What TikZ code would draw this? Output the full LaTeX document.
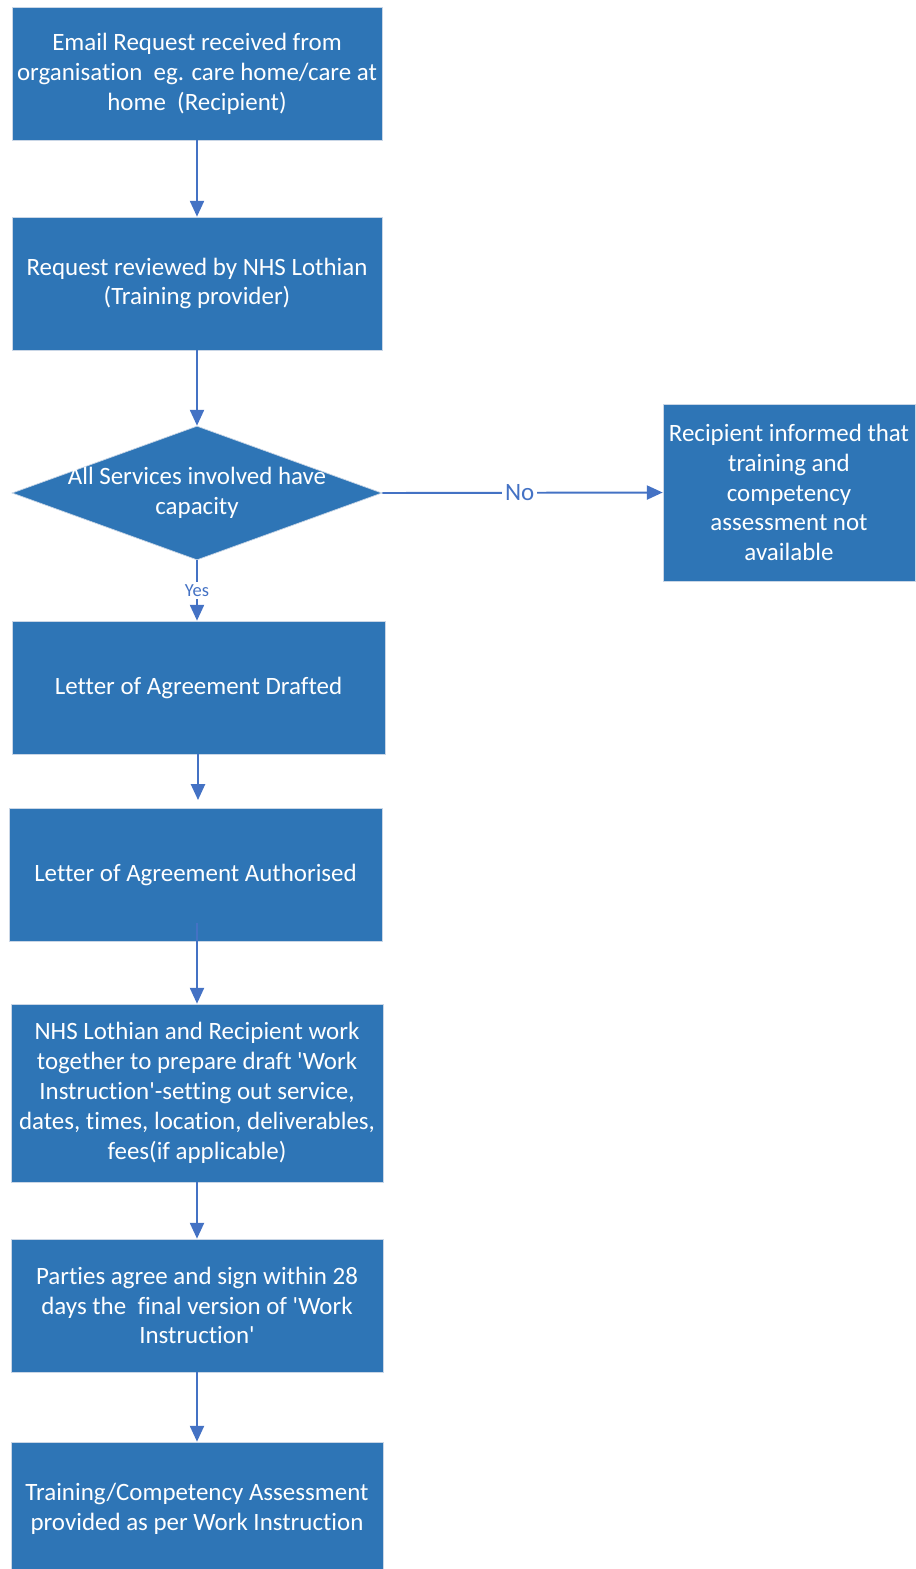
\documentclass[tikz,border=0pt]{standalone}
\usepackage{fontspec}
\setmainfont{Carlito}[Ligatures={NoCommon}]
\usetikzlibrary{arrows.meta,shapes.geometric,positioning}
\definecolor{fcFill}{HTML}{2E75B6}
\definecolor{fcEdge}{HTML}{C9D6E6}
\definecolor{fcArrow}{HTML}{4472C4}
\tikzset{
  fc diagram/.style={font=\fontsize{14.2}{17}\selectfont,
    line join=miter},
  fc box/.style={draw=fcEdge, fill=fcFill, text=white, line width=0.4pt,
    align=center, inner sep=0pt, minimum width=7.4cm, minimum height=2.66cm},
  fc decision/.style={fc box, diamond, aspect=2.76, inner xsep=-0.35cm,
    minimum width=7.4cm, minimum height=2.68cm},
  fc arrow/.style={-{Triangle[length=9pt,width=8pt]}, draw=fcArrow,
    line width=1.1pt},
  fc label/.style={fill=white, text=fcArrow, inner sep=1.5pt}
}

\begin{document}
\begin{tikzpicture}[fc diagram,x=0.02cm,y=-0.02cm]
\useasboundingbox (0,0) rectangle (916,1569);
% steps of the request
\node[fc box] (req) at (197,73.5) {Email Request received from\\
  organisation\ \ eg. care home/care at\\ home\ \ (Recipient)};
\node[fc box] (rev) at (197,283.5) {Request reviewed by NHS Lothian\\
  (Training provider)};
\node[fc decision] (cap) at (197,493) {All Services involved have\\ capacity};
\node[fc box, minimum width=5.04cm, minimum height=3.54cm] (none) at (789,492.5)
  {Recipient informed that\\ training and\\ competency\\ assessment not\\ available};
\node[fc box, minimum width=7.46cm] (draft) at (198.5,687.5) {Letter of Agreement Drafted};
\node[fc box, minimum width=7.46cm] (auth) at (195.5,874.5) {Letter of Agreement Authorised};
\node[fc box, minimum width=7.44cm, minimum height=3.56cm] (prep) at (197,1093)
  {NHS Lothian and Recipient work\\ together to prepare draft \textquotesingle Work\\
  Instruction\textquotesingle-setting out service,\\ dates, times, location, deliverables,\\
  fees(if applicable)};
\node[fc box, minimum width=7.44cm] (sign) at (197,1305.5)
  {Parties agree and sign within 28\\ days the\ \ final version of \textquotesingle Work\\
  Instruction\textquotesingle};
\node[fc box, minimum width=7.44cm] (give) at (197,1508.5)
  {Training/Competency Assessment\\ provided as per Work Instruction};
% loose ends
\coordinate (draftend) at (198,800);
\coordinate (authout) at (197,923);
% connectors
\draw[fc arrow] (req) -- (rev);
\draw[fc arrow] (rev) -- (cap);
\draw[fc arrow] (cap) -- node[fc label, font=\fontsize{10.5}{12}\selectfont, pos=0.5] {Yes} (cap.south |- draft.north);
\draw[fc arrow] (cap.east) -- node[fc label, pos=0.49] {No} (none.west);
\draw[fc arrow] (draft.south -| draftend) -- (draftend);
\draw[fc arrow] (authout) -- (authout |- prep.north);
\draw[fc arrow] (prep) -- (sign);
\draw[fc arrow] (sign) -- (give);
\end{tikzpicture}
\end{document}
